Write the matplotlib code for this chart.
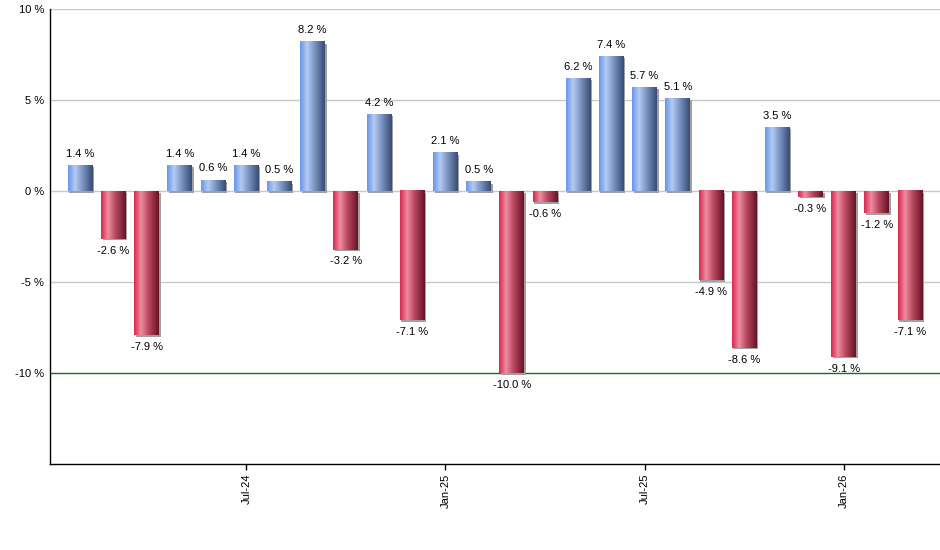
import matplotlib
matplotlib.use("Agg")
import matplotlib.pyplot as plt
import numpy as np
from matplotlib.colors import LinearSegmentedColormap
from matplotlib.patches import Rectangle
import matplotlib.transforms as mtransforms

plt.rcParams['font.family'] = ['Liberation Sans', 'DejaVu Sans']

# monthly returns, Feb-24 .. Mar-26
months = ['Feb-24', 'Mar-24', 'Apr-24', 'May-24', 'Jun-24', 'Jul-24', 'Aug-24', 'Sep-24',
          'Oct-24', 'Nov-24', 'Dec-24', 'Jan-25', 'Feb-25', 'Mar-25', 'Apr-25', 'May-25',
          'Jun-25', 'Jul-25', 'Aug-25', 'Sep-25', 'Oct-25', 'Nov-25', 'Dec-25', 'Jan-26',
          'Feb-26', 'Mar-26']
returns = [1.4, -2.6, -7.9, 1.4, 0.6, 1.4, 0.5, 8.2, -3.2, 4.2, -7.1, 2.1, 0.5, -10.0,
           -0.6, 6.2, 7.4, 5.7, 5.1, -4.9, -8.6, 3.5, -0.3, -9.1, -1.2, -7.1]
tick_labels = ['Jul-24', 'Jan-25', 'Jul-25', 'Jan-26']
y_ticks = [10, 5, 0, -5, -10]

blue = LinearSegmentedColormap.from_list(
    'b', [(0, '#6a95e8'), (0.28, '#b4cbf3'), (0.6, '#7891c0'), (1, '#394c72')])
red = LinearSegmentedColormap.from_list(
    'r', [(0, '#da2850'), (0.28, '#ee8ca0'), (0.6, '#b5465e'), (1, '#681426')])
grad = np.linspace(0, 1, 64).reshape(1, -1)

fig = plt.figure(figsize=(9.4, 5.5), dpi=100)
ax = fig.add_axes([0.053, 0.156, 0.947, 0.827])

x = np.arange(len(returns))
w = 0.75
# light grey drop shadow to the lower right of each bar
shadow = mtransforms.offset_copy(ax.transData, fig=fig, x=1.5, y=-1.5, units='dots')
for xi, v in zip(x, returns):
    y0, y1 = min(0, v), max(0, v)
    ax.add_patch(Rectangle((xi - w / 2, y0), w, y1 - y0, transform=shadow,
                           facecolor='#a0a0a0', edgecolor='none', zorder=2))
    ax.imshow(grad, cmap=blue if v > 0 else red, aspect='auto',
              extent=(xi - w / 2, xi + w / 2, y0, y1), zorder=3, interpolation='bilinear')
    if v > 0:
        ax.annotate(f'{v:.1f} %', (xi, v), xytext=(0, 5), textcoords='offset points',
                    ha='center', va='bottom', fontsize=8)
    else:
        ax.annotate(f'{v:.1f} %', (xi, v), xytext=(0, -5), textcoords='offset points',
                    ha='center', va='top', fontsize=8)

ax.set_xlim(-0.92, 25.9)
ax.set_ylim(-15, 10)

for yv in [10, 5, 0, -5]:
    ax.axhline(yv, color='#c8c8c8', lw=1, zorder=1)
ax.axhline(-10, color='#1a6e1a', lw=1, zorder=1)

ax.set_yticks(y_ticks)
ax.set_yticklabels([f'{t} %' for t in y_ticks], fontsize=8)
ax.tick_params(axis='y', length=0, pad=4)

ax.set_xticks([months.index(m) for m in tick_labels])
ax.set_xticklabels(tick_labels, rotation=90, fontsize=8)
ax.tick_params(axis='x', length=4, width=1, pad=3)

ax.spines['top'].set_visible(False)
ax.spines['right'].set_visible(False)
for s in ['left', 'bottom']:
    ax.spines[s].set_linewidth(1)

fig.savefig('out.png', dpi=100)
